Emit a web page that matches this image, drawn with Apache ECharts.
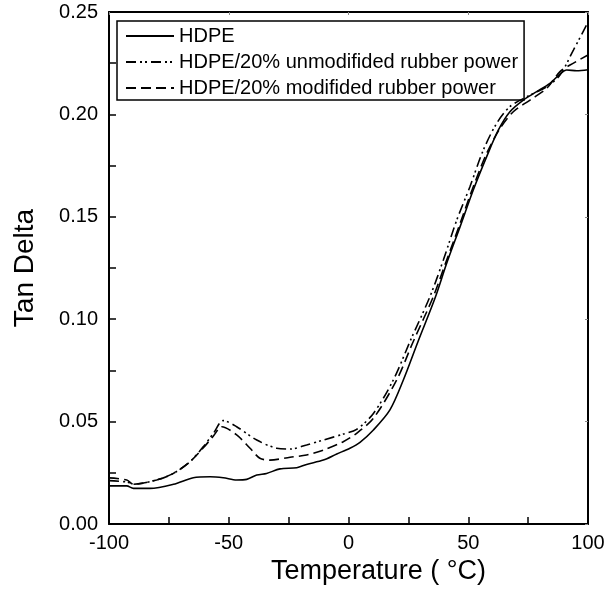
<!DOCTYPE html>
<html>
<head>
<meta charset="utf-8">
<script src="https://cdn.jsdelivr.net/npm/echarts@6/dist/echarts.min.js"></script>
<style>html,body{margin:0;padding:0;background:#fff;}#c{width:609px;height:597px;}</style>
</head>
<body>
<div id="c"></div>
<script>
const seriesNames = ["HDPE", "HDPE/20% unmodifided rubber power", "HDPE/20% modifided rubber power"];

const hdpeT   = [-100, -92.6, -89.8, -82.9, -73.1, -64.8, -57.8, -52.3, -46.7, -42.5, -38.3, -34.2, -28.6, -21.6, -17.5, -10.5, -4.9, 0.6, 4.8, 10.4, 17.3, 22.9, 29.0, 36.1, 41.0, 46.6, 52.1, 57.7, 62.6, 67.4, 73.0, 78.6, 84.1, 88.3, 91.1, 95.3, 100];
const hdpeTan = [0.0186, 0.0186, 0.0174, 0.0174, 0.0194, 0.0226, 0.0231, 0.0226, 0.0215, 0.0218, 0.0239, 0.0247, 0.0269, 0.0275, 0.0291, 0.0312, 0.0342, 0.0370, 0.0399, 0.0459, 0.0557, 0.0703, 0.0890, 0.1102, 0.1273, 0.1452, 0.1631, 0.1794, 0.1924, 0.2013, 0.2070, 0.2111, 0.2152, 0.2197, 0.2217, 0.2213, 0.2218];

const unmodT   = [-100, -92.6, -89.8, -80.1, -73.1, -66.2, -60.6, -56.4, -52.3, -46.7, -38.3, -30.0, -24.4, -17.5, -10.5, -2.2, 3.4, 10.4, 18.7, 26.0, 34.0, 39.6, 45.2, 50.7, 56.3, 61.9, 67.4, 74.4, 82.7, 88.3, 93.9, 100];
const unmodTan = [0.0212, 0.0205, 0.0194, 0.0215, 0.0247, 0.0304, 0.0378, 0.0443, 0.0505, 0.0475, 0.0410, 0.0370, 0.0366, 0.0386, 0.0410, 0.0439, 0.0462, 0.0540, 0.0703, 0.0900, 0.1110, 0.1289, 0.1484, 0.1647, 0.1826, 0.1957, 0.2038, 0.2086, 0.2135, 0.2192, 0.2314, 0.2450];

const modT   = [-100, -92.6, -89.8, -80.1, -73.1, -66.2, -60.6, -56.4, -52.9, -46.7, -41.1, -37.0, -32.8, -24.4, -17.5, -10.5, -2.2, 3.4, 10.4, 20.1, 27.0, 35.4, 41.0, 46.6, 52.1, 57.7, 63.3, 68.8, 75.8, 82.7, 88.3, 92.5, 100];
const modTan = [0.0225, 0.0215, 0.0194, 0.0215, 0.0247, 0.0304, 0.0372, 0.0430, 0.0475, 0.0435, 0.0370, 0.0321, 0.0312, 0.0326, 0.0337, 0.0361, 0.0402, 0.0443, 0.0516, 0.0703, 0.0890, 0.1110, 0.1289, 0.1468, 0.1647, 0.1810, 0.1932, 0.2013, 0.2070, 0.2127, 0.2209, 0.2241, 0.2290];

const xTicks = [-100, -50, 0, 50, 100];
const yTicks = [0.00, 0.05, 0.10, 0.15, 0.20, 0.25];

const pairs = (xs, ys) => xs.map((x, i) => [x, ys[i]]);
const FONT = "Liberation Sans, Arial, sans-serif";

const chart = echarts.init(document.getElementById('c'), null, {renderer: 'canvas'});
const axisLineStyle = {color: '#000', width: 2};
chart.setOption({
  animation: false,
  backgroundColor: '#fff',
  grid: {left: 109, right: 21, top: 12, bottom: 73, containLabel: false},
  legend: {
    orient: 'vertical',
    left: 117, top: 21,
    data: seriesNames,
    itemWidth: 48, itemHeight: 14, itemGap: 6,
    padding: [5, 6, 2, 8],
    borderColor: '#000', borderWidth: 1.5,
    itemStyle: {color: 'rgba(0,0,0,0)', borderWidth: 0, opacity: 0},
    textStyle: {fontFamily: FONT, fontSize: 20, color: '#000'}
  },
  xAxis: [{
    type: 'value', min: xTicks[0], max: xTicks[xTicks.length - 1], interval: 50,
    axisLine: {show: true, onZero: false, lineStyle: axisLineStyle},
    axisTick: {show: true, inside: true, length: 7, lineStyle: {color: '#000', width: 1.5}},
    minorTick: {show: true, splitNumber: 2, length: 7, lineStyle: {color: '#000', width: 1.5}},
    splitLine: {show: false},
    axisLabel: {fontFamily: FONT, fontSize: 20, color: '#000', margin: 9},
    name: 'Temperature ( °C)', nameLocation: 'middle', nameGap: 33,
    nameTextStyle: {fontFamily: FONT, fontSize: 27, color: '#000', padding: [0, 0, 0, 60]}
  }, {
    type: 'value', position: 'top', min: -100, max: 100, interval: 50,
    axisLine: {show: true, onZero: false, lineStyle: axisLineStyle},
    axisTick: {show: true, inside: true, length: 3, lineStyle: {color: '#888', width: 1}},
    axisLabel: {show: false}, splitLine: {show: false}
  }],
  yAxis: [{
    type: 'value', min: yTicks[0], max: yTicks[yTicks.length - 1], interval: 0.05,
    axisLine: {show: true, onZero: false, lineStyle: axisLineStyle},
    axisTick: {show: true, inside: true, length: 7, lineStyle: {color: '#000', width: 1.5}},
    minorTick: {show: true, splitNumber: 2, length: 7, lineStyle: {color: '#000', width: 1.5}},
    splitLine: {show: false},
    axisLabel: {fontFamily: FONT, fontSize: 20, color: '#000', margin: 11, formatter: v => v.toFixed(2)},
    name: 'Tan Delta', nameLocation: 'middle', nameGap: 70, nameRotate: 90,
    nameTextStyle: {fontFamily: FONT, fontSize: 28, color: '#000'}
  }, {
    type: 'value', position: 'right', min: 0, max: 0.25, interval: 0.05,
    axisLine: {show: true, onZero: false, lineStyle: axisLineStyle},
    axisTick: {show: true, inside: true, length: 3, lineStyle: {color: '#888', width: 1}},
    axisLabel: {show: false}, splitLine: {show: false}
  }],
  series: [
    {name: seriesNames[0], type: 'line', data: pairs(hdpeT, hdpeTan), smooth: 0.3, symbol: 'none',
     lineStyle: {color: '#000', width: 1.6, type: 'solid'}, itemStyle: {color: '#000'}},
    {name: seriesNames[1], type: 'line', data: pairs(unmodT, unmodTan), smooth: 0.3, symbol: 'none',
     lineStyle: {color: '#000', width: 1.6, type: [10, 4, 2, 3, 2, 4]}, itemStyle: {color: '#000'}},
    {name: seriesNames[2], type: 'line', data: pairs(modT, modTan), smooth: 0.3, symbol: 'none',
     lineStyle: {color: '#000', width: 1.6, type: [10, 5]}, itemStyle: {color: '#000'}}
  ]
});
</script>
</body>
</html>
